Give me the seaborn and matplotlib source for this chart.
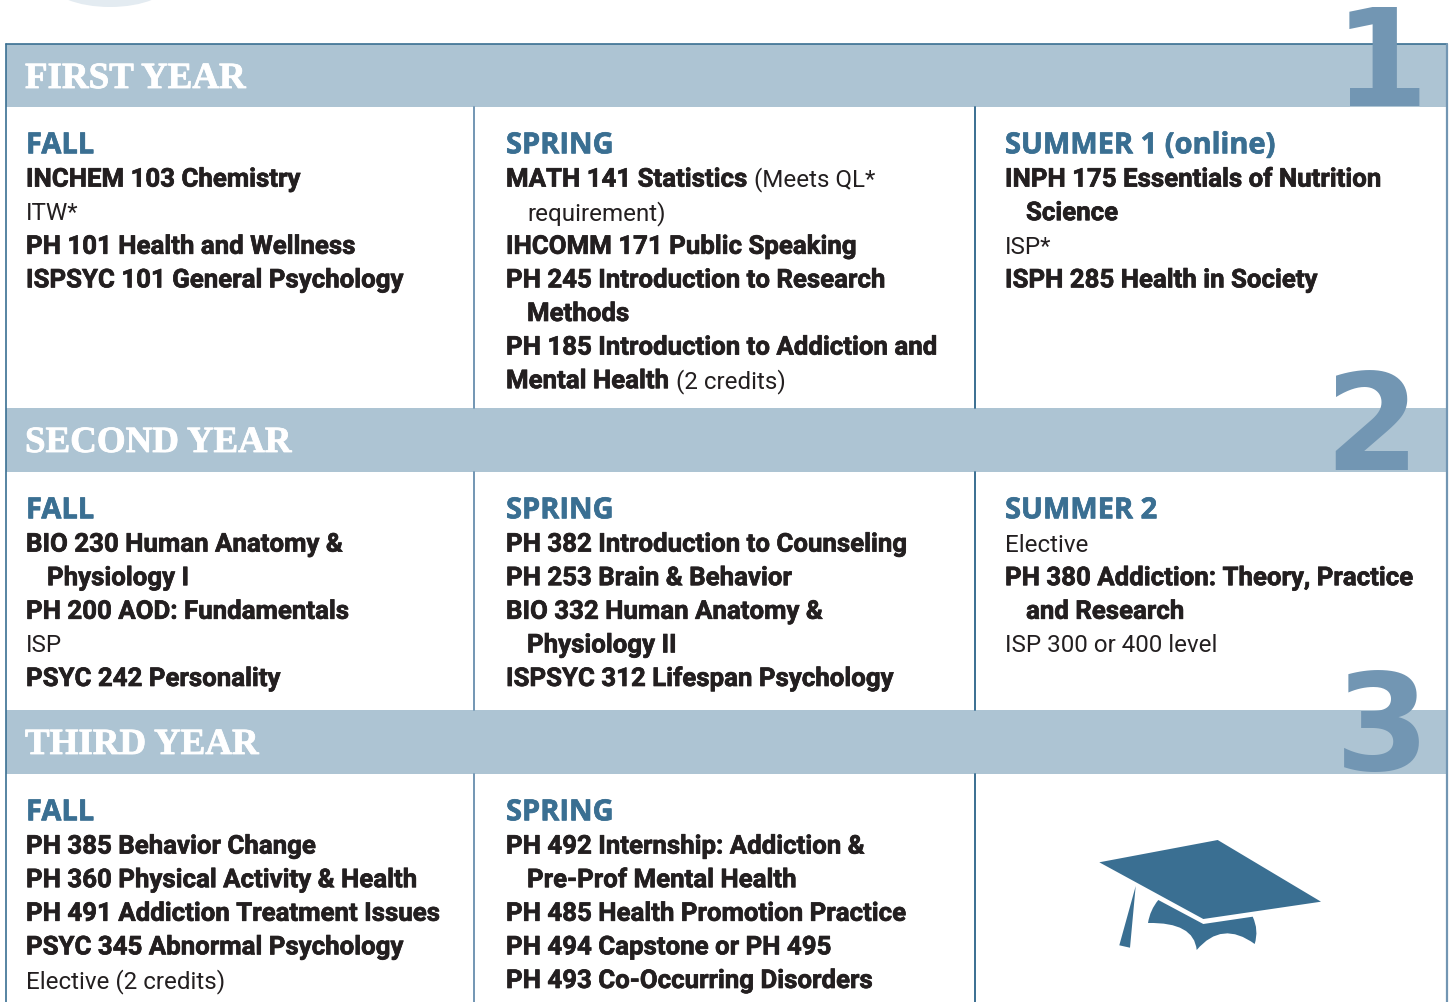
import matplotlib.pyplot as plt
import matplotlib.patheffects as pe
import seaborn as sns
from matplotlib.patches import Ellipse, PathPatch, Polygon
from matplotlib.path import Path

sns.set_theme(style='white')

DARK = '#231f20'
BLUE = '#3a6f92'
BAND = '#adc4d3'
NUM = '#7296b3'

years = ['FIRST YEAR', 'SECOND YEAR', 'THIRD YEAR']
year_numbers = ['1', '2', '3']

# each line is a list of (text, bold) runs, indent flag first
first_fall = [(0, [('INCHEM 103 Chemistry', 1)]), (0, [('ITW*', 0)]),
              (0, [('PH 101 Health and Wellness', 1)]),
              (0, [('ISPSYC 101 General Psychology', 1)])]
first_spring = [(0, [('MATH 141 Statistics ', 1), ('(Meets QL*', 0)]),
                (1, [('requirement)', 0)]),
                (0, [('IHCOMM 171 Public Speaking', 1)]),
                (0, [('PH 245 Introduction to Research', 1)]),
                (1, [('Methods', 1)]),
                (0, [('PH 185 Introduction to Addiction and', 1)]),
                (0, [('Mental Health ', 1), ('(2 credits)', 0)])]
first_summer = [(0, [('INPH 175 Essentials of Nutrition', 1)]), (1, [('Science', 1)]),
                (0, [('ISP*', 0)]), (0, [('ISPH 285 Health in Society', 1)])]
second_fall = [(0, [('BIO 230 Human Anatomy &', 1)]), (1, [('Physiology I', 1)]),
               (0, [('PH 200 AOD: Fundamentals', 1)]), (0, [('ISP', 0)]),
               (0, [('PSYC 242 Personality', 1)])]
second_spring = [(0, [('PH 382 Introduction to Counseling', 1)]),
                 (0, [('PH 253 Brain & Behavior', 1)]),
                 (0, [('BIO 332 Human Anatomy &', 1)]), (1, [('Physiology II', 1)]),
                 (0, [('ISPSYC 312 Lifespan Psychology', 1)])]
second_summer = [(0, [('Elective', 0)]), (0, [('PH 380 Addiction: Theory, Practice', 1)]),
                 (1, [('and Research', 1)]), (0, [('ISP 300 or 400 level', 0)])]
third_fall = [(0, [('PH 385 Behavior Change', 1)]),
              (0, [('PH 360 Physical Activity & Health', 1)]),
              (0, [('PH 491 Addiction Treatment Issues', 1)]),
              (0, [('PSYC 345 Abnormal Psychology', 1)]),
              (0, [('Elective (2 credits)', 0)])]
third_spring = [(0, [('PH 492 Internship: Addiction &', 1)]), (1, [('Pre-Prof Mental Health', 1)]),
                (0, [('PH 485 Health Promotion Practice', 1)]),
                (0, [('PH 494 Capstone or PH 495', 1)]),
                (0, [('PH 493 Co-Occurring Disorders', 1)])]

cells = [
    (0, 0, 'FALL', first_fall), (0, 1, 'SPRING', first_spring), (0, 2, 'SUMMER 1 (online)', first_summer),
    (1, 0, 'FALL', second_fall), (1, 1, 'SPRING', second_spring), (1, 2, 'SUMMER 2', second_summer),
    (2, 0, 'FALL', third_fall), (2, 1, 'SPRING', third_spring),
]

band_top = [44, 408, 710]
band_bot = [107, 472, 774]
col_x = [26, 506, 1005]
num_x = [1381, 1372, 1382]
num_base = [106, 470, 770]

fig = plt.figure(figsize=(14.5, 10.02), dpi=100)
ax = fig.add_axes([0, 0, 1, 1])
ax.set_xlim(0, 1450)
ax.set_ylim(1002, 0)
ax.axis('off')
sns.despine(ax=ax, left=True, bottom=True)

ax.add_patch(Ellipse((110, -18), 120, 50, color='#e3ebf1', lw=0))

for top, bot in zip(band_top, band_bot):
    ax.fill_between([6, 1447], top, bot, color=BAND, lw=0, zorder=1)
ax.plot([6, 1447], [44, 44], color=BLUE, lw=1.2, zorder=2)
ax.plot([6, 6], [44, 1002], color=BLUE, lw=1.2, zorder=2)
ax.plot([1447, 1447], [44, 1002], color=NUM, lw=1.6, zorder=2)
for x in [474, 975]:
    for y0, y1 in [(107, 408), (472, 710), (774, 1002)]:
        ax.plot([x, x], [y0, y1], color=NUM if x == 474 else BLUE, lw=1.4, zorder=2)

for top, name, n, nx, nb in zip(band_top, years, year_numbers, num_x, num_base):
    ax.text(25, top + 44, name, color='white', family='Liberation Serif', weight='bold',
            fontsize=26.6, va='baseline', zorder=4,
            path_effects=[pe.withStroke(linewidth=0.6, foreground='white')])
    ax.text(nx, nb, n, color=NUM, family='DejaVu Sans', weight='bold', fontsize=98,
            ha='center', va='baseline', zorder=3)

renderer = fig.canvas.get_renderer()
heavy = [pe.withStroke(linewidth=0.5, foreground=DARK)]


def draw_line(x, y, runs):
    for text, bold in runs:
        t = ax.text(x, y, text, color=DARK, family='Roboto', fontsize=18.6 if bold else 17.4,
                    weight='bold' if bold else 'normal', va='baseline', zorder=4,
                    path_effects=heavy if bold else None)
        x += t.get_window_extent(renderer).width


for row, col, season, lines in cells:
    top = band_bot[row]
    ax.text(col_x[col], top + 46.3, season, color=BLUE, family='Open Sans', weight='bold',
            fontsize=20.9, va='baseline', zorder=4,
            path_effects=[pe.withStroke(linewidth=0.5, foreground=BLUE)])
    for i, (indent, runs) in enumerate(lines):
        draw_line(col_x[col] + 21 * indent, top + 79.6 + i * 33.6, runs)

# mortarboard
ax.add_patch(Polygon([(1099.3, 862.3), (1217.7, 840), (1321, 901.7), (1203.3, 919)], color=BLUE, lw=0))
ax.add_patch(Polygon([(1135.7, 886), (1119.3, 945.3), (1130, 947.7)], color=BLUE, lw=0))
codes = [Path.MOVETO, Path.LINETO, Path.LINETO, Path.CURVE3, Path.CURVE3,
         Path.CURVE3, Path.CURVE3, Path.CURVE3, Path.CURVE3, Path.CURVE3, Path.CURVE3]
verts = [(1158.3, 900), (1203.3, 924), (1252.7, 916.7), (1259, 930), (1254.7, 944),
         (1222, 920), (1196.7, 950), (1194, 922), (1148, 923), (1150, 910), (1158.3, 900)]
ax.add_patch(PathPatch(Path(verts, codes), color=BLUE, lw=0))

fig.savefig('out.png', dpi=100)
